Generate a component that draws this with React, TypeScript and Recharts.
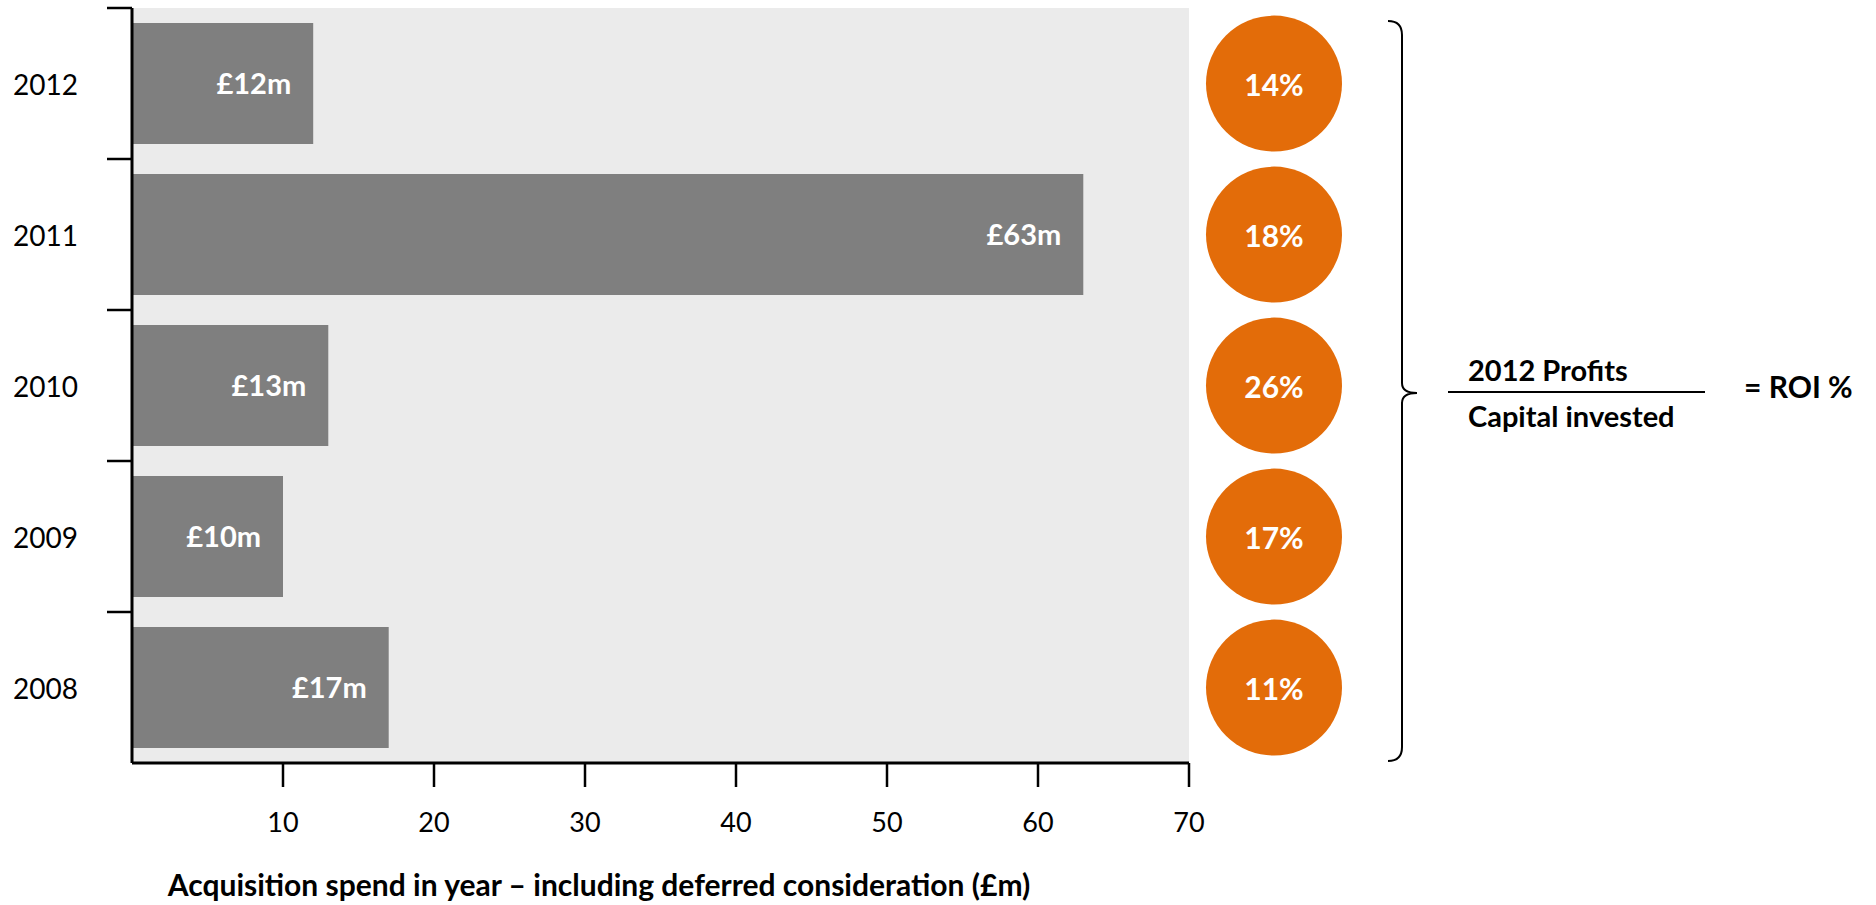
import { BarChart, Bar, XAxis, YAxis, CartesianGrid, LabelList } from 'recharts'

// data
const years = ['2012', '2011', '2010', '2009', '2008']
const spend = [12, 63, 13, 10, 17] // £m
const roi = [14, 18, 26, 17, 11] // %
const xTicks = [10, 20, 30, 40, 50, 60, 70]

const W = 1876
const H = 905
const margin = { top: 8, right: 687, bottom: 0, left: 0 }
const yAxisWidth = 132
const xAxisHeight = 142
const plotTop = margin.top
const plotBottom = H - xAxisHeight
const band = (plotBottom - plotTop) / years.length
const plotRight = W - margin.right

const FONT = 'Lato, "Open Sans", sans-serif'
const ORANGE = '#E36C09'
const GREY = '#7F7F7F'

const data = years.map((year, i) => ({ year, spend: spend[i], roi: roi[i] }))

// tick marks sit on the band boundaries, labels on the band centres
function YearTick({ y, payload }: any) {
  const top = y - band / 2
  return (
    <g>
      <line x1={yAxisWidth - 25} x2={yAxisWidth} y1={top} y2={top} stroke="#000" strokeWidth={2.5} />
      <text x={78} y={y} textAnchor="end" dominantBaseline="central" fontSize={28} fill="#000" fontFamily={FONT}>
        {payload.value}
      </text>
    </g>
  )
}

function RoiBubble(props: any) {
  const { viewBox, value } = props
  if (!viewBox) return null
  const cy = viewBox.y + viewBox.height / 2
  const cx = plotRight + 85
  return (
    <g>
      <circle cx={cx} cy={cy} r={68} fill={ORANGE} />
      <text x={cx} y={cy} textAnchor="middle" dominantBaseline="central" fill="#fff"
        fontSize={30} fontWeight="bold" fontFamily={FONT}>
        {value}%
      </text>
    </g>
  )
}

export default function App() {
  return (
    <div style={{ position: 'absolute', left: 0, top: 0, width: W, height: H, background: '#fff', fontFamily: FONT }}>
      <BarChart width={W} height={H} data={data} layout="vertical" margin={margin} barCategoryGap="10%">
        <CartesianGrid horizontal={false} vertical={false} fill="#EBEBEB" stroke="none" />
        <XAxis
          type="number"
          domain={[0, 70]}
          ticks={xTicks}
          interval={0}
          height={xAxisHeight}
          tickSize={24}
          tickMargin={26}
          axisLine={{ stroke: '#000', strokeWidth: 3 }}
          tickLine={{ stroke: '#000', strokeWidth: 2.5 }}
          tick={{ fontSize: 27, fill: '#000', fontFamily: FONT }}
        />
        <YAxis
          type="category"
          dataKey="year"
          width={yAxisWidth}
          axisLine={{ stroke: '#000', strokeWidth: 3 }}
          tickLine={false}
          tick={<YearTick />}
          interval={0}
        />
        <Bar dataKey="spend" fill={GREY} isAnimationActive={false}>
          <LabelList
            dataKey="spend"
            position="insideRight"
            offset={22}
            fill="#fff"
            fontSize={29}
            fontWeight="bold"
            fontFamily={FONT}
            formatter={(v: any) => `£${v}m`}
          />
          <LabelList dataKey="roi" content={<RoiBubble />} />
        </Bar>
      </BarChart>

      <svg width={W} height={H} style={{ position: 'absolute', left: 0, top: 0, pointerEvents: 'none' }}>
        <path
          d="M 1388 21 Q 1402 21 1402 35 L 1402 383 Q 1402 393 1417 393 Q 1402 393 1402 403 L 1402 747 Q 1402 761 1388 761"
          fill="none"
          stroke="#000"
          strokeWidth={2}
        />
        <line x1={1448} x2={1705} y1={392} y2={392} stroke="#000" strokeWidth={2} />
        <text x={1468} y={369} dominantBaseline="central" fontSize={29} fontWeight="bold" fontFamily={FONT}>
          2012 Profits
        </text>
        <text x={1468} y={415} dominantBaseline="central" fontSize={29} fontWeight="bold" fontFamily={FONT}>
          Capital invested
        </text>
        <text x={1744} y={386} dominantBaseline="central" fontSize={30} fontWeight="bold" fontFamily={FONT}>
          = ROI %
        </text>
        <text x={599} y={884} textAnchor="middle" dominantBaseline="central" fontSize={30} fontWeight="bold" fontFamily={FONT}>
          Acquisition spend in year – including deferred consideration (£m)
        </text>
      </svg>
    </div>
  )
}
